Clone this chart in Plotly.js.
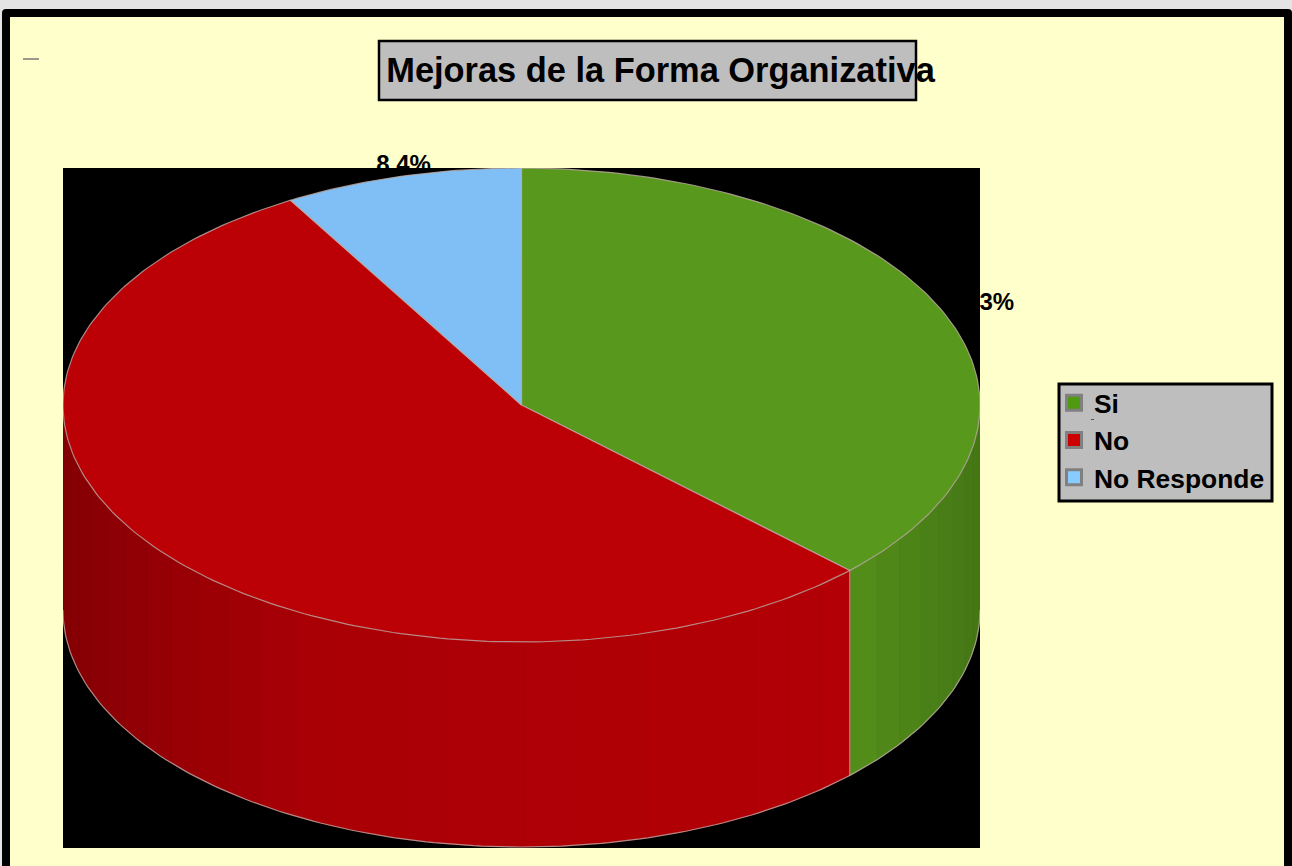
<!DOCTYPE html>
<html>
<head>
<meta charset="utf-8">
<script src="https://cdn.plot.ly/plotly-3.0.1.min.js"></script>
<style>
html,body{margin:0;padding:0;width:1292px;height:866px;overflow:hidden;background:#e4e4e4;}
#frame{position:absolute;left:2px;top:9px;width:1290px;height:857px;background:#000;border-radius:4px 4px 0 0;overflow:hidden;}
#chart{position:absolute;left:8px;top:8px;width:1274px;height:849px;}
</style>
</head>
<body>
<div id="frame"><div id="chart"></div></div>
<script>
// ---- data ----
var categories = ['Si', 'No', 'No Responde'];
var percents = [37.3, 54.3, 8.4];
var percentLabels = ['37.3%', '54.3%', '8.4%'];
var topColors = ['rgb(88,152,28)', 'rgb(187,0,6)', 'rgb(127,191,245)'];
var legendColors = ['#4f9a10', '#cc0000', '#88ccff'];
var chartTitle = 'Mejoras de la Forma Organizativa';

// ---- geometry of the drawing (pixels of the page) ----
var W = 1274, H = 849, ORX = 10, ORY = 17;
var CX = 521.5, CY = 405, RX = 458.5, RY = 237, DEPTH = 205 / 237;
var xp = function (px) { return (px - ORX) / W; };
var yp = function (py) { return 1 - (py - ORY) / H; };
var ux = function (px) { return (px - CX) / RX; };
var uy = function (py) { return (CY - py) / RY; };
var EDGE = 'rgba(190,170,165,0.8)';

// angles, clockwise from 12 o'clock
var total = percents.reduce(function (a, b) { return a + b; }, 0);
var starts = [], ends = [], acc = 0;
percents.forEach(function (p) { starts.push(acc / total * 360); acc += p; ends.push(acc / total * 360); });
var rad = function (d) { return d * Math.PI / 180; };
var ex = function (d) { return Math.sin(rad(d)); };
var ey = function (d) { return Math.cos(rad(d)); };

function shadeAt(u) {
  var stops = [[-1, .71], [-.8, .79], [-.48, .9], [0, .93], [.71, .95], [1, .78]];
  for (var i = 1; i < stops.length; i++) {
    if (u <= stops[i][0]) {
      var a = stops[i - 1], b = stops[i];
      return a[1] + (b[1] - a[1]) * (u - a[0]) / (b[0] - a[0]);
    }
  }
  return .78;
}
function shaded(rgb, f) {
  var m = rgb.match(/\d+/g).map(Number);
  return 'rgb(' + m.map(function (v) { return Math.round(v * f); }).join(',') + ')';
}

var traces = [];

// side wall: bands between 90deg and 270deg, split at the slice boundaries
[0, 1].forEach(function (s) {
  var from = Math.max(starts[s], 90), to = Math.min(ends[s], 270);
  var n = Math.max(1, Math.round((to - from) / 5));
  for (var i = 0; i < n; i++) {
    var a0 = from + (to - from) * i / n, a1 = from + (to - from) * (i + 1) / n;
    var xs = [], ys = [], k;
    for (k = 0; k <= 4; k++) { var a = a0 + (a1 - a0) * k / 4; xs.push(ex(a)); ys.push(ey(a)); }
    for (k = 4; k >= 0; k--) { var b = a0 + (a1 - a0) * k / 4; xs.push(ex(b)); ys.push(ey(b) - DEPTH); }
    xs.push(xs[0]); ys.push(ys[0]);
    var c = shaded(topColors[s], shadeAt(ex((a0 + a1) / 2)));
    traces.push({ type: 'scatter', mode: 'lines', x: xs, y: ys, fill: 'toself', fillcolor: c,
      line: { color: c, width: 0.8 }, showlegend: false, hoverinfo: 'skip' });
  }
});

// bottom rim and the vertical edge between the two visible walls
(function () {
  var xs = [], ys = [];
  for (var a = 90; a <= 270; a += 1) { xs.push(ex(a)); ys.push(ey(a) - DEPTH); }
  traces.push({ type: 'scatter', mode: 'lines', x: xs, y: ys, line: { color: EDGE, width: 1.2 }, showlegend: false, hoverinfo: 'skip' });
  traces.push({ type: 'scatter', mode: 'lines', x: [ex(ends[0]), ex(ends[0])], y: [ey(ends[0]), ey(ends[0]) - DEPTH],
    line: { color: EDGE, width: 1.2 }, showlegend: false, hoverinfo: 'skip' });
})();

// top face
categories.forEach(function (name, s) {
  var xs = [0], ys = [0];
  for (var a = starts[s]; a < ends[s]; a += 1) { xs.push(ex(a)); ys.push(ey(a)); }
  xs.push(ex(ends[s])); ys.push(ey(ends[s]));
  xs.push(0); ys.push(0);
  traces.push({ type: 'scatter', mode: 'lines', name: name, x: xs, y: ys, fill: 'toself', fillcolor: topColors[s],
    line: { color: EDGE, width: 1.2 }, showlegend: false, hoverinfo: 'skip' });
});

// legend entries
categories.forEach(function (name, s) {
  traces.push({ type: 'scatter', mode: 'markers', name: name, x: [null], y: [null],
    marker: { symbol: 'square', size: 15, color: legendColors[s], line: { color: '#808080', width: 3 } },
    showlegend: true, hoverinfo: 'skip' });
});

// data labels: they sit behind the black plate, so each lives in a subplot that stops at the plate
var labelFont = { family: 'Liberation Sans, Arial, sans-serif', size: 24, color: '#000', weight: 'bold' };
traces.push({ type: 'scatter', mode: 'text', x: [ux(403.5)], y: [uy(165.5)], text: [percentLabels[2]],
  textposition: 'middle center', textfont: labelFont, xaxis: 'x2', yaxis: 'y2', cliponaxis: true, showlegend: false, hoverinfo: 'skip' });
traces.push({ type: 'scatter', mode: 'text', x: [ux(980.05)], y: [uy(304)], text: [percentLabels[0]],
  textposition: 'middle center', textfont: labelFont, xaxis: 'x3', yaxis: 'y3', cliponaxis: true, showlegend: false, hoverinfo: 'skip' });

function rect(x0, y0, x1, y1, fill, lineColor, lw) {
  return { type: 'rect', xref: 'paper', yref: 'paper', layer: 'below',
    x0: xp(x0), x1: xp(x1), y0: yp(y0), y1: yp(y1), fillcolor: fill,
    line: { color: lineColor || fill, width: lw || 0 } };
}
function dash(x0, x1, y, color, w) {
  return { type: 'line', xref: 'paper', yref: 'paper', layer: 'above', x0: xp(x0), x1: xp(x1), y0: yp(y), y1: yp(y), line: { color: color, width: w } };
}

var hidden = { visible: false, fixedrange: true };
var layout = {
  width: W, height: H,
  margin: { l: 0, r: 0, t: 0, b: 0, pad: 0 },
  paper_bgcolor: '#FFFFCC',
  plot_bgcolor: 'rgba(0,0,0,0)',
  hovermode: false,
  title: { text: chartTitle, x: xp(660.5), xref: 'paper', xanchor: 'center', y: yp(70), yref: 'paper', yanchor: 'middle',
    font: { family: 'Liberation Sans, Arial, sans-serif', size: 34.4, color: '#000', weight: 'bold' } },
  xaxis: Object.assign({ domain: [xp(63), xp(980)], range: [ux(63), ux(980)] }, hidden),
  yaxis: Object.assign({ domain: [yp(848), yp(168)], range: [uy(848), uy(168)] }, hidden),
  xaxis2: Object.assign({ domain: [0, 1], range: [ux(ORX), ux(ORX + W)], anchor: 'y2' }, hidden),
  yaxis2: Object.assign({ domain: [yp(168), 1], range: [uy(168), uy(ORY)], anchor: 'x2' }, hidden),
  xaxis3: Object.assign({ domain: [xp(980), 1], range: [ux(980), ux(ORX + W)], anchor: 'y3' }, hidden),
  yaxis3: Object.assign({ domain: [0, 1], range: [uy(ORY + H), uy(ORY)], anchor: 'x3' }, hidden),
  legend: { x: xp(1054), y: yp(379), xanchor: 'left', yanchor: 'top', bgcolor: 'rgba(0,0,0,0)', borderwidth: 0,
    font: { family: 'Liberation Sans, Arial, sans-serif', size: 26.4, color: '#000', weight: 'bold' }, traceorder: 'normal', itemclick: false, itemdoubleclick: false },
  shapes: [
    rect(63, 168, 980, 848, '#000'),
    rect(379, 41, 916, 100, '#BEBEBE', '#000', 2.5),
    rect(1059, 384, 1272, 501, '#BEBEBE', '#000', 3),
    dash(23, 39, 59, '#777', 1.5),
    dash(1091, 1094, 419.5, '#555', 1)
  ]
};
Plotly.newPlot('chart', traces, layout, { displayModeBar: false, staticPlot: true });
</script>
</body>
</html>
